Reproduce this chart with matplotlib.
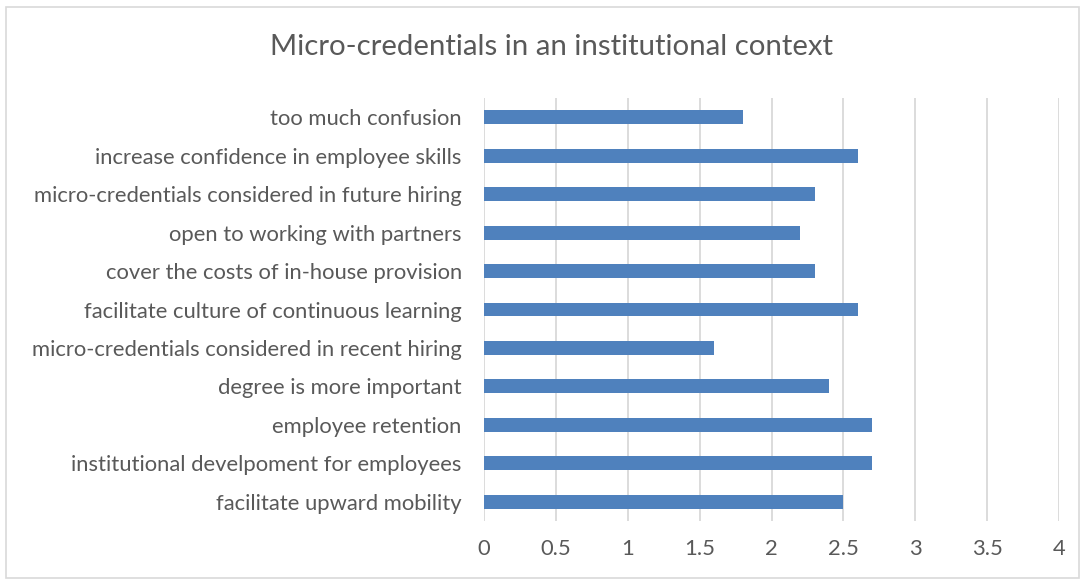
import matplotlib.pyplot as plt
from matplotlib.patches import Rectangle

categories = [
    "facilitate upward mobility",
    "institutional develpoment for employees",
    "employee retention",
    "degree is more important",
    "micro-credentials considered in recent hiring",
    "facilitate culture of continuous learning",
    "cover the costs of in-house provision",
    "open to working with partners",
    "micro-credentials considered in future hiring",
    "increase confidence in employee skills",
    "too much confusion",
]
values = [2.5, 2.7, 2.7, 2.4, 1.6, 2.6, 2.3, 2.2, 2.3, 2.6, 1.8]
xticks = [0, 0.5, 1, 1.5, 2, 2.5, 3, 3.5, 4]
xtick_labels = ["0", "0.5", "1", "1.5", "2", "2.5", "3", "3.5", "4"]

plt.rcParams['font.family'] = ['Lato', 'DejaVu Sans']
text_color = '#595959'

fig = plt.figure(figsize=(10.85, 5.79), dpi=100)
ax = fig.add_axes([484 / 1085, 1 - 521 / 579, 575 / 1085, 423 / 579])

ax.barh(range(len(categories)), values, height=0.36, color='#4F81BD', zorder=3)
ax.set_ylim(-0.5, len(categories) - 0.5)
ax.set_xlim(0, 4)
ax.set_xticks(xticks)
ax.set_xticklabels(xtick_labels)
ax.set_yticks(range(len(categories)))
ax.set_yticklabels(categories)

ax.grid(axis='x', color='#D9D9D9', linewidth=1.3, zorder=0)
for s in ax.spines.values():
    s.set_visible(False)
ax.tick_params(axis='both', length=0, labelsize=15.8, colors=text_color)
ax.tick_params(axis='y', pad=16)
ax.tick_params(axis='x', pad=13)

fig.text(551 / 1085, 1 - 47 / 579, "Micro-credentials in an institutional context",
         ha='center', va='center', fontsize=21.2, color=text_color)

fig.patches.append(Rectangle((6 / 1085, 0.002), 1073 / 1085, 1 - 7 / 579 - 0.002,
                             transform=fig.transFigure, fill=False,
                             edgecolor='#D9D9D9', linewidth=1.2))

fig.savefig('out.png', dpi=100)
